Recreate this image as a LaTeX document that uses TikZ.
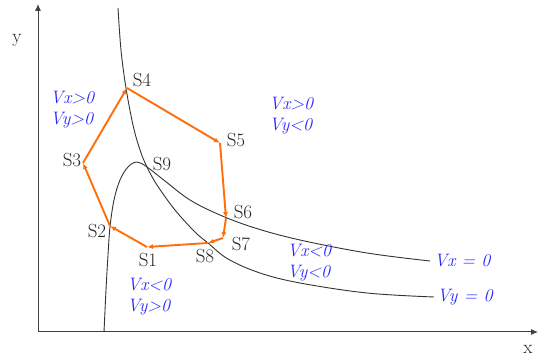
\documentclass[tikz,border=0pt]{standalone}
\usepackage{fontspec}
\usetikzlibrary{arrows.meta}
\definecolor{orbitorange}{RGB}{255,110,10}
\definecolor{signblue}{RGB}{40,40,255}
\tikzset{
  axis/.style={black!75, line width=1pt, -{Latex[length=7pt,width=6pt]}},
  nullcline/.style={black!80, line width=0.9pt},
  orbit/.style={color=orbitorange, line width=1.9pt, -{Latex[length=6pt,width=5pt]}},
  state/.style={font=\fontsize{19}{22}\selectfont, text=black!85, inner sep=0pt},
  sign/.style={font=\fontsize{18}{21}\selectfont\itshape, text=signblue, align=left, inner sep=0pt, anchor=west},
}
\begin{document}
\begin{tikzpicture}[x=1pt, y=-1pt]
  \useasboundingbox (0,0) rectangle (539,358);
  % axes
  \coordinate (origin) at (38,332);
  \coordinate (xend) at (538,332);
  \coordinate (yend) at (38,4);
  \draw[axis] (origin) -- (xend);
  \draw[axis] (origin) -- (yend);
  \node[state] (xlabel) at (528,349) {x};
  \node[state] (ylabel) at (17,40) {y};
  % nullclines
  \draw[nullcline] plot[smooth, tension=0.6] coordinates {(104,332) (106,290) (108,255) (110,227)
    (114,200) (120,180) (128,167) (137,162) (147,167) (165,181) (190,200) (220,215) (255,228)
    (300,240) (367,253) (430,261)} coordinate (vxend);
  \draw[nullcline] plot[smooth, tension=0.6] coordinates {(118,8) (121,50) (126,88) (133,125)
    (140,150) (147,167) (157,185) (175,210) (195,232) (208,243) (228,259) (260,273) (300,283)
    (367,293) (434,297)} coordinate (vyend);
  \node[sign] (vxzero) at ([xshift=4pt]vxend) {Vx = 0};
  \node[sign] (vyzero) at ([xshift=3pt]vyend) {Vy = 0};
  % regions
  \node[sign] (pp) at (50,110) {Vx>0\\Vy>0};
  \node[sign] (pm) at (269,116) {Vx>0\\Vy<0};
  \node[sign] (mm) at (287,263) {Vx<0\\Vy<0};
  \node[sign] (mp) at (127,297) {Vx<0\\Vy>0};
  % cycle
  \coordinate (s1) at (147,247);
  \coordinate (s2) at (110,226);
  \coordinate (s3) at (83,163);
  \coordinate (s4) at (127,88);
  \coordinate (s5) at (220,143);
  \coordinate (s6) at (226,218);
  \coordinate (s7) at (223,238);
  \coordinate (s8) at (208,243);
  \draw[orbit] (s1) -- (s2);
  \draw[orbit] (s2) -- (s3);
  \draw[orbit] (s3) -- (s4);
  \draw[orbit] (s4) -- (s5);
  \draw[orbit] (s5) -- (s6);
  \draw[orbit] (s6) -- (s7);
  \draw[orbit] (s7) -- (s8);
  \draw[orbit] (s8) -- (s1);
  \node[state] (l1) at (148,260) {S1};
  \node[state] (l2) at (97,231) {S2};
  \node[state] (l3) at (72,160) {S3};
  \node[state] (l4) at (142,80) {S4};
  \node[state] (l5) at (236,140) {S5};
  \node[state] (l6) at (243,212) {S6};
  \node[state] (l7) at (241,244) {S7};
  \node[state] (l8) at (205,256) {S8};
  \node[state] (l9) at (162,164) {S9};
\end{tikzpicture}
\end{document}
